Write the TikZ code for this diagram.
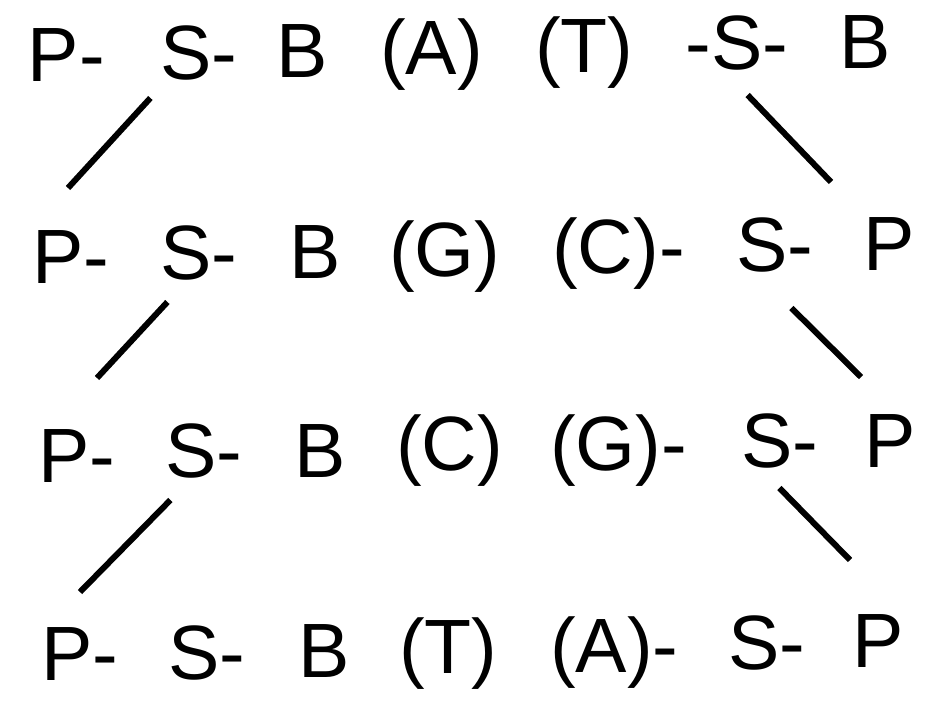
\documentclass[tikz,border=0pt]{standalone}
\usepackage{fontspec}
\setmainfont{Liberation Sans}

\begin{document}
\begin{tikzpicture}[x=1pt,y=-1pt,
        lbl/.style={anchor=base west,inner sep=0pt,font=\fontsize{77}{80}\selectfont},
        bond/.style={line width=6pt}]
        \useasboundingbox (0,0) rectangle (925,705);
        % row 1
        \node[lbl] (lp1) at (27.7,81) {P-};
        \node[lbl] (ls1) at (160.4,79) {S-};
        \node[lbl] (lb1) at (276.4,77) {B};
        \node[lbl] (lx1) at (380,74) {(A)};
        \node[lbl] (rx1) at (535,72) {(T)};
        \node[lbl] (rs1) at (685.6,69) {-S-};
        \node[lbl] (rp1) at (839.4,68) {B};
        % row 2
        \node[lbl] (lp2) at (32,283) {P-};
        \node[lbl] (ls2) at (160.4,279) {S-};
        \node[lbl] (lb2) at (289.4,278) {B};
        \node[lbl] (lx2) at (389,276) {(G)};
        \node[lbl] (rx2) at (552,273) {(C)-};
        \node[lbl] (rs2) at (736.4,271) {S-};
        \node[lbl] (rp2) at (863,270) {P};
        % row 3
        \node[lbl] (lp3) at (38,482) {P-};
        \node[lbl] (ls3) at (165.4,477) {S-};
        \node[lbl] (lb3) at (294.4,477) {B};
        \node[lbl] (lx3) at (396,470) {(C)};
        \node[lbl] (rx3) at (550,470) {(G)-};
        \node[lbl] (rs3) at (741.4,467) {S-};
        \node[lbl] (rp3) at (864,467) {P};
        % row 4
        \node[lbl] (lp4) at (41,680) {P-};
        \node[lbl] (ls4) at (168.4,679) {S-};
        \node[lbl] (lb4) at (298.4,677) {B};
        \node[lbl] (lx4) at (399,673) {(T)};
        \node[lbl] (rx4) at (550,672) {(A)-};
        \node[lbl] (rs4) at (728.4,669) {S-};
        \node[lbl] (rp4) at (852,667) {P};
        % backbone links
        \draw[bond] ([shift={(-10,19)}]ls1.base west) -- ([shift={(36,-95)}]lp2.base west);
        \draw[bond] ([shift={(62,26)}]rs1.base west) -- ([shift={(-32,-88)}]rp2.base west);
        \draw[bond] ([shift={(7,23)}]ls2.base west) -- ([shift={(59,-104)}]lp3.base west);
        \draw[bond] ([shift={(55,37)}]rs2.base west) -- ([shift={(-3,-90)}]rp3.base west);
        \draw[bond] ([shift={(5,23)}]ls3.base west) -- ([shift={(39,-88)}]lp4.base west);
        \draw[bond] ([shift={(38,21)}]rs3.base west) -- ([shift={(-2,-107)}]rp4.base west);
\end{tikzpicture}
\end{document}
